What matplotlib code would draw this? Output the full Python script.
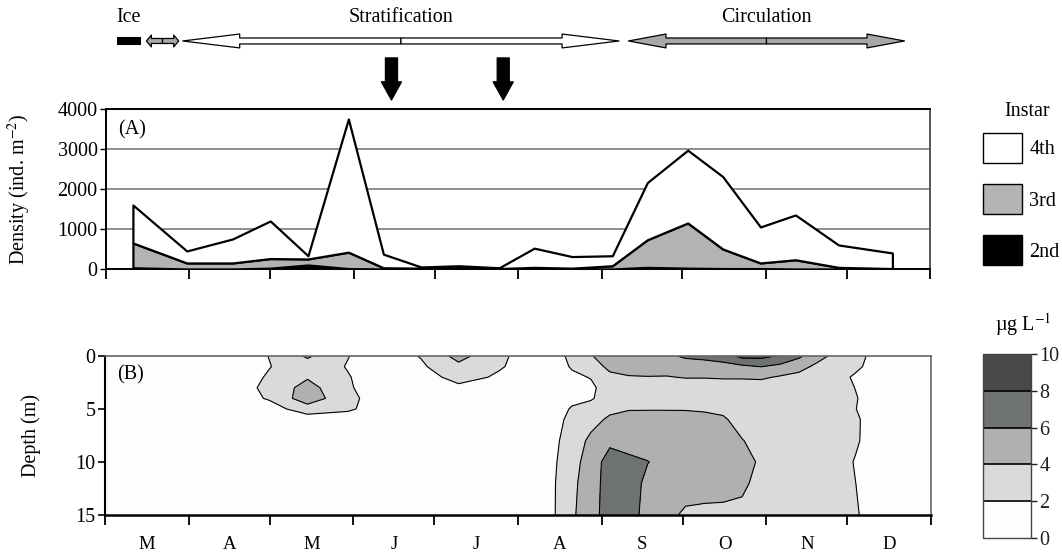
import numpy as np
import matplotlib
matplotlib.use("Agg")
import matplotlib.pyplot as plt
from matplotlib.patches import FancyArrowPatch, ArrowStyle, Patch

plt.rcParams['font.family'] = ['Liberation Serif', 'DejaVu Serif']
plt.rcParams['mathtext.fontset'] = 'stix'
plt.rcParams['font.size'] = 14.5

# months on the x axis (days counted from 1 March)
month_labels = ['M', 'A', 'M', 'J', 'J', 'A', 'S', 'O', 'N', 'D']
month_len = [31, 30, 31, 30, 31, 31, 30, 31, 30, 31]

# (A) instar densities, ind. m-2
sample_days = [10, 30, 47, 61, 75, 90, 103, 117, 131, 146,
               159, 173, 188, 201, 216, 229, 243, 256, 272, 292]
second = [30, 0, 0, 20, 100, 10, 0, 0, 30, 0,
          0, 0, 0, 40, 20, 10, 10, 0, 0, 0]
third = [620, 150, 150, 240, 150, 410, 30, 20, 20, 10,
         40, 20, 80, 690, 1130, 490, 140, 230, 40, 10]
fourth = [950, 300, 600, 940, 80, 3330, 340, 30, 30, 20,
          480, 290, 250, 1430, 1820, 1810, 900, 1120, 560, 390]

# (B) chlorophyll, ug L-1, one list per depth
profile_days = [0, 47, 61, 75, 90, 103, 117, 131, 146, 159, 166, 173, 180, 187, 194,
                201, 208, 215, 222, 229, 236, 243, 250, 257, 264, 271, 278, 285, 306]
depths = [0, 1, 2, 3, 4, 5, 6, 8, 10, 12, 15]
chl = [
    [1, 1, 2.05, 4.3, 2.05, 1, 2.1, 4.7, 2.4, 1, 1, 2.6, 3.9, 4.8, 5.0, 5.0, 5.6, 6.3, 6.6, 7.0, 8.6, 8.6, 7.8, 6.4, 4.6, 3.5, 3.3, 1, 1],
    [1, 1, 1.95, 3.0, 1.9, 1, 1.7, 3.5, 2.2, 1, 1, 2.2, 3.0, 4.5, 4.6, 4.6, 4.8, 5.0, 5.0, 5.3, 5.6, 6.05, 5.5, 4.6, 3.6, 3.2, 2.6, 1, 1],
    [1, 1, 2.2, 3.8, 2.1, 1, 1, 2.8, 1.7, 1, 1, 1.6, 2.1, 3.5, 3.9, 3.95, 3.9, 4.1, 4.1, 4.2, 4.2, 4.3, 3.8, 3.5, 3.0, 3.0, 1.6, 1, 1],
    [1, 1, 2.5, 4.8, 2.2, 1, 1, 1.5, 1, 1, 1, 1.3, 1.6, 3.0, 3.0, 3.0, 3.0, 3.0, 3.0, 3.0, 3.0, 3.0, 3.0, 3.0, 3.0, 3.0, 1.95, 1, 1],
    [1, 1, 2.2, 5.2, 2.5, 1, 1, 1, 1, 1, 1, 1.5, 1.8, 3.0, 3.0, 3.0, 3.0, 3.0, 3.0, 3.0, 2.8, 2.9, 3.0, 3.0, 3.0, 3.0, 2.15, 1, 1],
    [1, 1, 1.2, 3.0, 2.3, 1, 1, 1, 1, 1, 1, 2.2, 2.8, 3.6, 3.9, 3.9, 3.9, 3.9, 3.8, 3.5, 2.8, 2.8, 2.9, 3.0, 3.0, 3.0, 2.05, 1, 1],
    [1, 1, 1, 1, 1, 1, 1, 1, 1, 1, 1.2, 2.6, 3.4, 4.3, 4.6, 4.7, 4.7, 4.6, 4.5, 4.3, 3.1, 2.8, 2.9, 3.0, 3.0, 3.0, 2.35, 1, 1],
    [1, 1, 1, 1, 1, 1, 1, 1, 1, 1, 1.5, 3.0, 4.4, 5.6, 5.3, 5.2, 5.2, 5.2, 5.0, 4.9, 4.1, 3.2, 2.9, 3.0, 3.0, 3.0, 2.3, 1, 1],
    [1, 1, 1, 1, 1, 1, 1, 1, 1, 1, 1.7, 3.2, 5.0, 6.8, 6.4, 6.05, 5.4, 5.3, 5.0, 4.9, 4.5, 3.8, 3.0, 3.0, 3.0, 3.0, 1.85, 1, 1],
    [1, 1, 1, 1, 1, 1, 1, 1, 1, 1, 1.8, 3.4, 5.4, 6.6, 6.8, 5.6, 5.0, 4.8, 4.7, 4.6, 4.3, 3.5, 3.0, 3.0, 3.0, 3.0, 2.02, 1, 1],
    [1, 1, 1, 1, 1, 1, 1, 1, 1, 1, 1.8, 3.6, 5.6, 6.5, 6.6, 5.5, 4.5, 3.7, 3.6, 3.6, 3.6, 3.2, 3.0, 3.0, 3.0, 3.0, 2.25, 1, 1],
]
chl_levels = [0, 2, 4, 6, 8, 10]
chl_colors = ['#fdfdfd', '#dadadc', '#b0b0b0', '#6e7272', '#484a4a']

# limnological phases above the plot
ice_period = (4, 13)
thaw_period = (15, 27)
strat_period = (28.5, 190.5)
circ_period = (194, 296.5)
arrow_days = [106, 147.5]

edges = np.concatenate([[0], np.cumsum(month_len)])
centers = (edges[:-1] + edges[1:]) / 2

fig = plt.figure(figsize=(10.62, 5.58), dpi=100)
axA = fig.add_axes([0.0998, 0.518, 0.776, 0.2867])
axB = fig.add_axes([0.0989, 0.0771, 0.7778, 0.285])
axT = fig.add_axes([0.0998, 0.8047, 0.776, 0.1953])

# ---- panel A
axA.stackplot(sample_days, second, third, fourth,
              colors=['black', '#b3b3b3', 'white'],
              edgecolor='black', linewidth=1.6, zorder=3)
axA.set_xlim(0, edges[-1])
axA.set_ylim(0, 4000)
axA.set_yticks([0, 1000, 2000, 3000, 4000])
axA.yaxis.grid(True, color='#7a7a7a', linewidth=1.2, zorder=0)
axA.set_axisbelow(True)
axA.set_xticks(edges)
axA.set_xticklabels([])
axA.tick_params(axis='x', direction='out', length=7, width=1.3)
axA.tick_params(axis='y', direction='out', length=4, width=1.0, pad=2)
for s in ['left', 'bottom', 'top']:
    axA.spines[s].set_linewidth(1.4)
axA.spines['right'].set_color('#555555')
axA.spines['right'].set_linewidth(1.4)
axA.set_ylabel('Density (ind. m$^{-2}$)')
axA.yaxis.set_label_coords(-0.089, 0.5)
axA.text(0.015, 0.87, '(A)', transform=axA.transAxes, va='center', ha='left')

handles = [Patch(facecolor='white', edgecolor='black', label='4th'),
           Patch(facecolor='#b3b3b3', edgecolor='black', label='3rd'),
           Patch(facecolor='black', edgecolor='black', label='2nd')]
fig.legend(handles=handles, loc='upper left',
           bbox_to_anchor=(0.916, 0.779), frameon=False, borderpad=0,
           handlelength=1.95, handleheight=1.86, labelspacing=1.08,
           handletextpad=0.35, fontsize=14.5)
fig.text(1027 / 1062, 1 - 111 / 558, 'Instar', ha='center', va='center')

# ---- panel B
X, Y = np.meshgrid(profile_days, depths)
Z = np.array(chl)
cf = axB.contourf(X, Y, Z, levels=chl_levels, colors=chl_colors)
axB.contour(X, Y, Z, levels=chl_levels[1:-1], colors='black', linewidths=0.8)
axB.set_xlim(0, edges[-1])
axB.set_ylim(15, 0)
axB.set_yticks([0, 5, 10, 15])
axB.set_xticks(edges)
axB.set_xticklabels([])
axB.set_xticks(centers, minor=True)
axB.set_xticklabels(month_labels, minor=True, fontsize=13.5)
axB.tick_params(axis='x', which='major', direction='out', length=7, width=1.3)
axB.tick_params(axis='x', which='minor', length=0, pad=15)
axB.tick_params(axis='y', direction='out', length=5, width=1.2, pad=2)
axB.spines['left'].set_linewidth(1.5)
axB.spines['bottom'].set_linewidth(1.8)
for s in ['top', 'right']:
    axB.spines[s].set_color('#666666')
    axB.spines[s].set_linewidth(1.2)
axB.set_ylabel('Depth (m)')
axB.yaxis.set_label_coords(-0.078, 0.5)
axB.text(0.015, 0.88, '(B)', transform=axB.transAxes, va='center', ha='left')

cax = fig.add_axes([0.9256, 0.0358, 0.0452, 0.3297])
cb = fig.colorbar(cf, cax=cax, ticks=chl_levels, drawedges=True)
cb.dividers.set_color('black')
cb.dividers.set_linewidth(1.2)
cb.outline.set_edgecolor('#444444')
cb.outline.set_linewidth(1.0)
cax.tick_params(length=4, width=1.0, colors='#222222', pad=2)
fig.text(1023 / 1062, 1 - 325 / 558, 'µg L$^{-1}$', ha='center', va='center')

# ---- phase arrows above panel A
axT.set_xlim(0, edges[-1])
axT.set_ylim(0, 1)
axT.axis('off')
ya = 0.624


def double_arrow(ax, start, end, face, hl, hw, tw):
    mid = (start + end) / 2
    style = ArrowStyle.Simple(head_length=hl, head_width=hw, tail_width=tw)
    for tip in (start, end):
        ax.add_patch(FancyArrowPatch((mid, ya), (tip, ya), arrowstyle=style,
                                     facecolor=face, edgecolor='black',
                                     linewidth=0.9, shrinkA=0, shrinkB=0,
                                     mutation_scale=1))


axT.plot(ice_period, [ya, ya], color='black', linewidth=5.8, solid_capstyle='butt')
axT.text(ice_period[0], 0.844, 'Ice', ha='left', va='center')
double_arrow(axT, *thaw_period, '#a8a8a8', 3.6, 8.5, 3.6)
double_arrow(axT, *strat_period, 'white', 41, 10, 4.3)
double_arrow(axT, *circ_period, '#a8a8a8', 27, 10, 4.3)
axT.text(sum(strat_period) / 2, 0.844, 'Stratification', ha='center', va='center')
axT.text(sum(circ_period) / 2, 0.844, 'Circulation', ha='center', va='center')

down = ArrowStyle.Simple(head_length=13, head_width=14.4, tail_width=8.6)
for d in arrow_days:
    axT.add_patch(FancyArrowPatch((d, 0.468), (d, 0.083), arrowstyle=down,
                                  color='black', shrinkA=0, shrinkB=0,
                                  mutation_scale=1))

fig.savefig('out.png', dpi=100)
